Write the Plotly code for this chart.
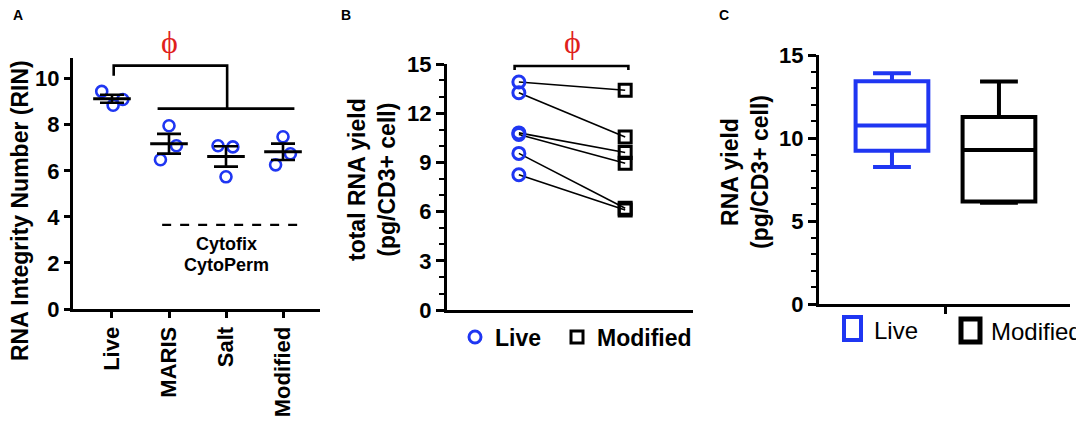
import numpy as np
import plotly.graph_objects as go

# ---------------- data ----------------
groups_A = ["Live", "MARIS", "Salt", "Modified"]
rin_live = [9.45, 8.85, 9.10]
rin_maris = [7.96, 7.09, 6.48]
rin_salt = [7.09, 7.04, 5.74]
rin_modified = [7.48, 6.74, 6.26]

yield_live = [13.9, 13.25, 10.8, 10.7, 9.55, 8.25]
yield_modified = [13.4, 10.55, 9.6, 8.95, 6.2, 6.1]

ticks_A = [0, 2, 4, 6, 8, 10]
ticks_B = [0, 3, 6, 9, 12, 15]
ticks_C = [0, 5, 10, 15]

# ---------------- style ----------------
BLUE = "#1f36f2"
BLACK = "#000000"
RED = "#e0201b"
FONT = "Liberation Sans, Arial, sans-serif"
SERIF = "Liberation Serif, Times New Roman, serif"
W, H = 1084, 427
OFF = 8  # page offset of the plot div
jitter = [[-0.18, 0.02, 0.19], [0.0, 0.13, -0.15], [-0.14, 0.12, 0.0], [0.0, 0.13, -0.13]]

def px(x):
    return (x - OFF) / W

def py(y):
    return 1 - (y - OFF) / H

def bold(items):
    return ["<b>%s</b>" % t for t in items]

fig = go.Figure()

# ---------------- panel A ----------------
rin_sets = [rin_live, rin_maris, rin_salt, rin_modified]
for i, vals in enumerate(rin_sets):
    xs = [i + j for j in jitter[i]]
    fig.add_trace(go.Scatter(x=xs, y=vals, mode="markers", xaxis="x", yaxis="y",
                             marker=dict(symbol="circle-open", size=11, color=BLUE,
                                         line=dict(width=2.6, color=BLUE)),
                             showlegend=False, hoverinfo="skip"))
for i, vals in enumerate(rin_sets):
    m = float(np.mean(vals))
    sem = float(np.std(vals, ddof=1) / np.sqrt(len(vals)))
    fig.add_trace(go.Scatter(x=[i - 0.33, i + 0.33], y=[m, m], mode="lines", xaxis="x", yaxis="y",
                             line=dict(color=BLACK, width=3), showlegend=False, hoverinfo="skip"))
    fig.add_trace(go.Scatter(x=[i], y=[m], mode="markers", xaxis="x", yaxis="y",
                             marker=dict(size=0.1, color=BLACK),
                             error_y=dict(type="data", array=[sem], color=BLACK, thickness=2.6, width=12),
                             showlegend=False, hoverinfo="skip"))

# ---------------- panel B ----------------
for a, b in zip(yield_live, yield_modified):
    fig.add_trace(go.Scatter(x=[0, 1], y=[a, b], mode="lines", xaxis="x2", yaxis="y2",
                             line=dict(color=BLACK, width=1.6), showlegend=False, hoverinfo="skip"))
fig.add_trace(go.Scatter(x=[0] * len(yield_live), y=yield_live, mode="markers", name="<b>Live</b>",
                         xaxis="x2", yaxis="y2", legend="legend",
                         marker=dict(symbol="circle-open", size=12, color=BLUE, line=dict(width=3, color=BLUE))))
fig.add_trace(go.Scatter(x=[1] * len(yield_modified), y=yield_modified, mode="markers", name="<b>Modified</b>",
                         xaxis="x2", yaxis="y2", legend="legend2",
                         marker=dict(symbol="square-open", size=12, color=BLACK, line=dict(width=3, color=BLACK))))

# ---------------- panel C ----------------
def quartiles(v):
    s = np.sort(np.asarray(v, float))
    n = len(s)
    def q(p):
        pos = p * (n + 1) - 1
        lo = int(np.floor(pos))
        fr = pos - lo
        lo = max(0, min(lo, n - 1))
        hi = max(0, min(lo + 1, n - 1))
        return s[lo] + fr * (s[hi] - s[lo])
    return s[0], q(0.25), float(np.median(s)), q(0.75), s[-1]

series_C = [("Live", yield_live, BLUE), ("Modified", yield_modified, BLACK)]
for k, (name, vals, col) in enumerate(series_C):
    mn, q1, med, q3, mx = quartiles(vals)
    fig.add_trace(go.Box(x=[k], q1=[q1], median=[med], q3=[q3], lowerfence=[mn], upperfence=[mx],
                         name=name, xaxis="x3", yaxis="y3", showlegend=False,
                         line=dict(color=col, width=4), fillcolor="rgba(255,255,255,0)",
                         width=0.68, whiskerwidth=0.52, boxpoints=False, hoverinfo="skip"))

# ---------------- axes ----------------
axis_common = dict(showgrid=False, zeroline=False, showline=True, linecolor=BLACK, linewidth=3,
                   ticks="outside", tickcolor=BLACK, tickwidth=2.5, automargin=False,
                   tickfont=dict(family=FONT, size=22, color=BLACK))

legend_common = dict(orientation="h", xanchor="left", yanchor="middle",
                     font=dict(family=FONT, size=23, color=BLACK),
                     bgcolor="rgba(0,0,0,0)", borderwidth=0)

fig.update_layout(
    template="none",
    width=W, height=H, autosize=False,
    margin=dict(l=0, r=0, t=0, b=0, pad=0),
    paper_bgcolor="white", plot_bgcolor="white",
    font=dict(family=FONT, color=BLACK),
    xaxis=dict(axis_common, domain=[px(73), px(320)], range=[-0.684, 3.649], anchor="y",
               tickvals=list(range(len(groups_A))), ticktext=bold(groups_A), tickangle=-90, ticklen=6),
    yaxis=dict(axis_common, domain=[py(309), py(58)], range=[0, 10.9], anchor="x",
               tickvals=ticks_A, ticktext=bold(ticks_A), ticklen=6),
    xaxis2=dict(axis_common, domain=[px(447), px(693)], range=[-0.676, 1.638], anchor="y2",
                showticklabels=False, ticks=""),
    yaxis2=dict(axis_common, domain=[py(310), py(64)], range=[0, 15], anchor="x2",
                tickvals=ticks_B, ticktext=bold(ticks_B), ticklen=8,
                minor=dict(ticks="outside", dtick=1, ticklen=5, tickwidth=2, tickcolor=BLACK)),
    xaxis3=dict(axis_common, domain=[px(819), px(1070)], range=[-0.682, 1.664], anchor="y3",
                tickvals=[0.5], ticktext=[""], ticklen=7),
    yaxis3=dict(axis_common, domain=[py(304), py(55)], range=[0, 15], anchor="x3",
                tickvals=ticks_C, ticktext=bold(ticks_C), ticklen=8,
                minor=dict(ticks="outside", dtick=1, ticklen=5, tickwidth=2, tickcolor=BLACK)),
    legend=dict(legend_common, x=px(455), y=py(337)),
    legend2=dict(legend_common, x=px(557), y=py(337)),
)

# ---------------- annotations / shapes ----------------
shapes = []
line_k = dict(color=BLACK, width=2.6)
# Panel A bracket
shapes.append(dict(type="path", xref="x", yref="y",
                   path="M 0.03,10.13 L 0.03,10.57 L 2.02,10.57 L 2.02,8.7", line=line_k))
shapes.append(dict(type="line", xref="x", yref="y", x0=0.8, x1=3.2, y0=8.7, y1=8.7, line=line_k))
shapes.append(dict(type="line", xref="x", yref="y", x0=0.88, x1=3.35, y0=3.65, y1=3.65,
                   line=dict(color=BLACK, width=2.2, dash="dash")))
# Panel B bracket
shapes.append(dict(type="path", xref="x2", yref="y2",
                   path="M -0.04,14.63 L -0.04,14.88 L 1.03,14.88 L 1.03,14.63", line=line_k))
# Panel C legend swatches
shapes.append(dict(type="rect", xref="paper", yref="paper", x0=px(844), x1=px(861), y0=py(340), y1=py(317),
                   line=dict(color=BLUE, width=4), fillcolor="rgba(0,0,0,0)"))
shapes.append(dict(type="rect", xref="paper", yref="paper", x0=px(961), x1=px(980), y0=py(342), y1=py(319),
                   line=dict(color=BLACK, width=5), fillcolor="rgba(0,0,0,0)"))
fig.update_layout(shapes=shapes)

ann = []
def add_text(text, x, y, xref="paper", yref="paper", size=18, bold_=True, angle=0,
             family=FONT, color=BLACK, xanchor="center"):
    t = "<b>%s</b>" % text if bold_ else text
    ann.append(dict(text=t, x=x, y=y, xref=xref, yref=yref, showarrow=False,
                    xanchor=xanchor, yanchor="middle", textangle=angle,
                    font=dict(family=family, size=size, color=color)))

add_text("ϕ", 1.0, py(42), xref="x", size=32, bold_=False, family=SERIF, color=RED)
add_text("ϕ", 0.5, py(42), xref="x2", size=32, bold_=False, family=SERIF, color=RED)
add_text("Cytofix", 2.0, py(244), xref="x", size=18)
add_text("CytoPerm", 2.0, py(265), xref="x", size=18)
add_text("RNA Integrity Number (RIN)", px(20), py(211), size=23, angle=-90)
add_text("total RNA yield<br>(pg/CD3+ cell)", px(372), py(180), size=23, angle=-90)
add_text("RNA yield<br>(pg/CD3+ cell)", px(745), py(172), size=23, angle=-90)
add_text(series_C[0][0], px(872), py(330), size=24, bold_=False, xanchor="left")
add_text(series_C[1][0], px(989), py(331), size=24, bold_=False, xanchor="left")
for letter, xx in [("A", 18), ("B", 346), ("C", 724)]:
    add_text(letter, px(xx), py(15), size=14)
fig.update_layout(annotations=ann)

fig.write_html("out.html")
